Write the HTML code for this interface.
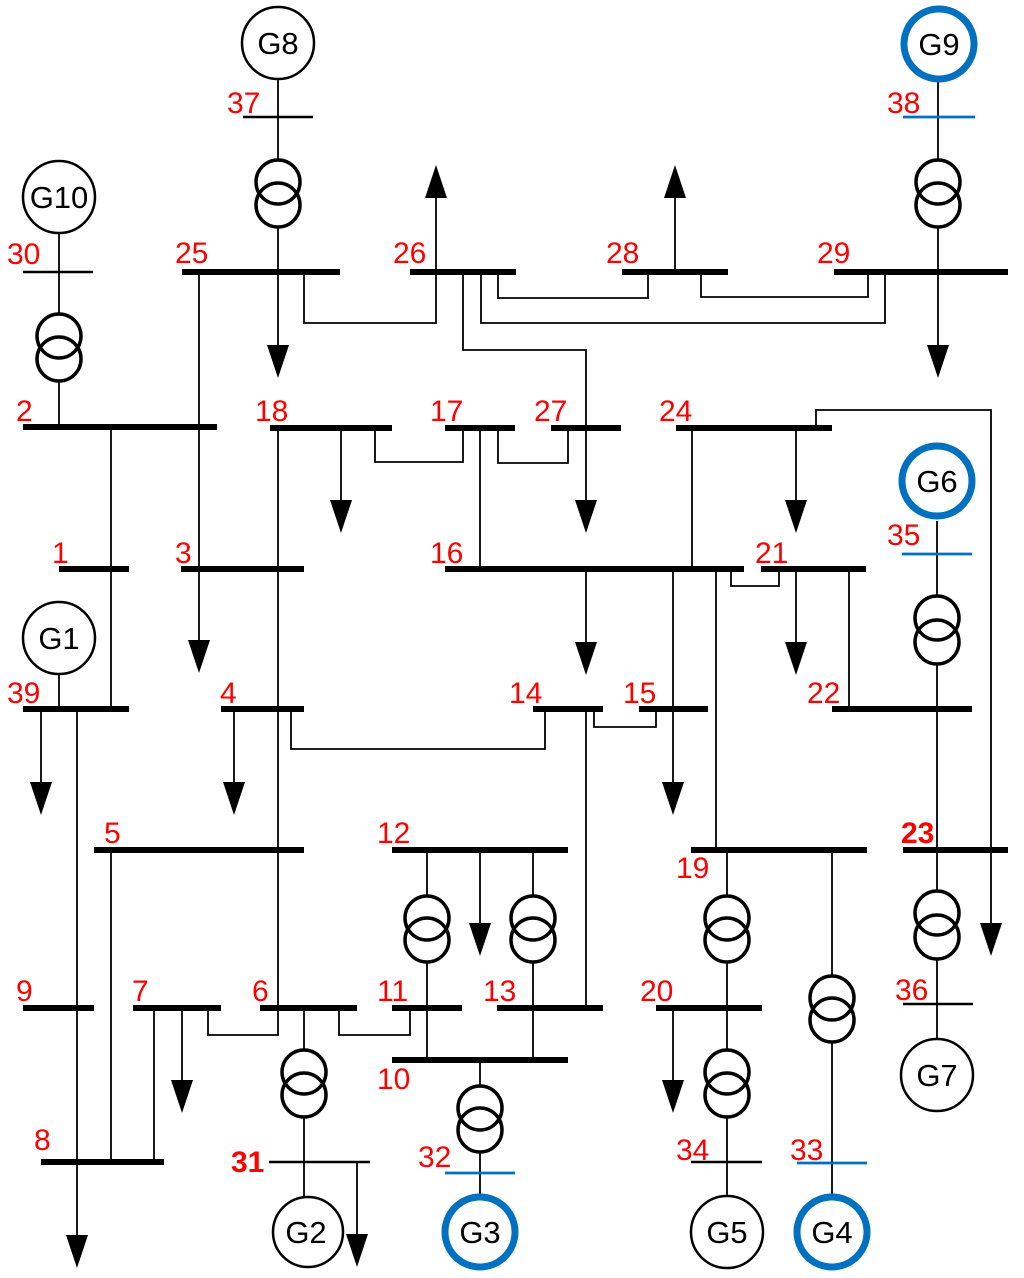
<!DOCTYPE html>
<html><head><meta charset="utf-8"><style>
html,body{margin:0;padding:0;background:#fff;}
svg{display:block;}
.l{stroke:#000;stroke-width:1.8;fill:none;}
.b{stroke:#000;stroke-width:6;}
.t{stroke:#000;stroke-width:2.6;}
.bl{stroke:#0070c0;stroke-width:2.8;}
.tr{stroke:#000;stroke-width:3.5;fill:none;}
.g{stroke:#000;stroke-width:2.5;fill:#fff;}
.gb{stroke:#0070c0;stroke-width:7;fill:#fff;}
.r{fill:#ff0000;font-family:"Liberation Sans",sans-serif;font-size:30px;}
.k{fill:#000;font-family:"Liberation Sans",sans-serif;font-size:31px;text-anchor:middle;}
</style></head><body>
<svg width="1024" height="1278" viewBox="0 0 1024 1278" xmlns="http://www.w3.org/2000/svg">
<g class="l">
<path d="M278 79V160M278 227V272"/>
<path d="M278 272V346"/>
<path d="M938 82V160M938 227V272M938 272V346"/>
<path d="M59 233V314M59 381V427"/>
<path d="M304 272V323H436V272"/>
<path d="M436 272V198"/>
<path d="M199 272V641"/>
<path d="M463 272V350H586V502"/>
<path d="M481 272V323H885V272"/>
<path d="M498 272V298H648V272"/>
<path d="M675 272V198"/>
<path d="M701 272V297H868V272"/>
<path d="M816 428V410H991V924"/>
<path d="M111 427V709"/>
<path d="M278 428V1035H208V1008"/>
<path d="M341 428V502"/>
<path d="M375 428V462H463V428"/>
<path d="M480 428V569"/>
<path d="M498 428V463H568V428"/>
<path d="M692 428V569"/>
<path d="M796 428V502"/>
<path d="M937 521V596M937 664V891M937 959V1004V1040"/>
<path d="M586 569V642"/>
<path d="M673 569V782"/>
<path d="M716 569V850"/>
<path d="M731 569V586H779V569"/>
<path d="M796 569V642"/>
<path d="M849 569V709"/>
<path d="M59 674V709"/>
<path d="M41 709V782"/>
<path d="M77 709V1235"/>
<path d="M234 709V782"/>
<path d="M291 709V749H545V709"/>
<path d="M586 709V1008"/>
<path d="M594 709V727H656V709"/>
<path d="M111 850V1162"/>
<path d="M154 1008V1162"/>
<path d="M182 1008V1080"/>
<path d="M304 1008V1050M304 1117V1196"/>
<path d="M339 1008V1035H410V1008"/>
<path d="M357 1162V1234"/>
<path d="M427 850V896M427 962V1060"/>
<path d="M480 850V923"/>
<path d="M533 850V896M533 962V1060"/>
<path d="M480 1060V1086M480 1152V1196"/>
<path d="M727 850V896M727 962V1050M727 1117V1196"/>
<path d="M673 1008V1080"/>
<path d="M832 850V976M832 1042V1196"/>
</g>
<g class="b">
<path d="M182 272H340M410 272H516M622 272H728M834 272H1008"/>
<path d="M23 427H217M270 428H392M445 428H515M551 428H621M676 428H832"/>
<path d="M59 569H129M181 569H304M445 569H744M761 569H866"/>
<path d="M23 709H129M221 709H304M533 709H603M639 709H708M832 709H972"/>
<path d="M94 850H304M392 850H568M691 850H867M903 850H1008"/>
<path d="M23 1008H94M133 1008H221M260 1008H357M392 1008H462M497 1008H603M656 1008H762"/>
<path d="M392 1060H568M41 1162H164"/>
</g>
<g class="t">
<path d="M243 117H313M23 272H93M269 1162H370M691 1162H762M903 1004H973"/>
</g>
<g class="bl">
<path d="M903 117H975M902 554H972M445 1173H515M797 1163H867"/>
</g>
<g class="tr">
<circle cx="278" cy="182" r="22"/><circle cx="278" cy="205" r="22"/>
<circle cx="938" cy="182" r="22"/><circle cx="938" cy="205" r="22"/>
<circle cx="59" cy="336" r="22"/><circle cx="59" cy="359" r="22"/>
<circle cx="937" cy="618" r="22"/><circle cx="937" cy="642" r="22"/>
<circle cx="427" cy="918" r="22"/><circle cx="427" cy="940" r="22"/>
<circle cx="533" cy="918" r="22"/><circle cx="533" cy="940" r="22"/>
<circle cx="727" cy="918" r="22"/><circle cx="727" cy="940" r="22"/>
<circle cx="937" cy="913" r="22"/><circle cx="937" cy="937" r="22"/>
<circle cx="304" cy="1072" r="22"/><circle cx="304" cy="1095" r="22"/>
<circle cx="480" cy="1108" r="22"/><circle cx="480" cy="1130" r="22"/>
<circle cx="727" cy="1072" r="22"/><circle cx="727" cy="1095" r="22"/>
<circle cx="832" cy="998" r="22"/><circle cx="832" cy="1020" r="22"/>
</g>
<g fill="#000">
<polygon points="267,345 289,345 278,378"/>
<polygon points="927,345 949,345 938,378"/>
<polygon points="425,198 447,198 436,165"/>
<polygon points="664,198 686,198 675,165"/>
<polygon points="575,500 597,500 586,533"/>
<polygon points="330,500 352,500 341,533"/>
<polygon points="785,500 807,500 796,533"/>
<polygon points="188,640 210,640 199,673"/>
<polygon points="575,642 597,642 586,675"/>
<polygon points="785,642 807,642 796,675"/>
<polygon points="30,782 52,782 41,815"/>
<polygon points="223,782 245,782 234,815"/>
<polygon points="662,782 684,782 673,815"/>
<polygon points="469,923 491,923 480,956"/>
<polygon points="980,923 1002,923 991,956"/>
<polygon points="171,1080 193,1080 182,1113"/>
<polygon points="662,1080 684,1080 673,1113"/>
<polygon points="66,1235 88,1235 77,1268"/>
<polygon points="346,1234 368,1234 357,1267"/>
</g>
<circle class="g" cx="278" cy="43" r="36"/>
<circle class="g" cx="59" cy="197" r="36"/>
<circle class="g" cx="59" cy="638" r="36"/>
<circle class="g" cx="308" cy="1232" r="35"/>
<circle class="g" cx="727" cy="1232" r="36"/>
<circle class="g" cx="937" cy="1075" r="36"/>
<circle class="gb" cx="939" cy="44" r="35"/>
<circle class="gb" cx="937" cy="481" r="35"/>
<circle class="gb" cx="480" cy="1232" r="35"/>
<circle class="gb" cx="832" cy="1232" r="35"/>
<text class="k" x="278" y="54">G8</text>
<text class="k" x="59" y="208">G10</text>
<text class="k" x="59" y="649">G1</text>
<text class="k" x="306" y="1243">G2</text>
<text class="k" x="727" y="1243">G5</text>
<text class="k" x="937" y="1086">G7</text>
<text class="k" x="939" y="55">G9</text>
<text class="k" x="937" y="492">G6</text>
<text class="k" x="480" y="1243">G3</text>
<text class="k" x="832" y="1243">G4</text>
<g class="r">
<text x="227" y="113">37</text>
<text x="7" y="264">30</text>
<text x="175" y="263">25</text>
<text x="393" y="263">26</text>
<text x="606" y="263">28</text>
<text x="817" y="263">29</text>
<text x="887" y="113">38</text>
<text x="16" y="421">2</text>
<text x="255" y="421">18</text>
<text x="430" y="421">17</text>
<text x="534" y="421">27</text>
<text x="659" y="421">24</text>
<text x="52" y="563">1</text>
<text x="175" y="563">3</text>
<text x="430" y="563">16</text>
<text x="755" y="563">21</text>
<text x="887" y="545">35</text>
<text x="7" y="703">39</text>
<text x="220" y="703">4</text>
<text x="509" y="703">14</text>
<text x="623" y="703">15</text>
<text x="807" y="703">22</text>
<text x="104" y="843">5</text>
<text x="377" y="843">12</text>
<text x="901" y="843" font-weight="bold">23</text>
<text x="676" y="878">19</text>
<text x="16" y="1001">9</text>
<text x="132" y="1001">7</text>
<text x="252" y="1001">6</text>
<text x="377" y="1001">11</text>
<text x="483" y="1001">13</text>
<text x="640" y="1001">20</text>
<text x="895" y="1000">36</text>
<text x="377" y="1089">10</text>
<text x="34" y="1150">8</text>
<text x="231" y="1172" font-weight="bold">31</text>
<text x="418" y="1167">32</text>
<text x="676" y="1160">34</text>
<text x="790" y="1160">33</text>
</g>
</svg>
</body></html>
